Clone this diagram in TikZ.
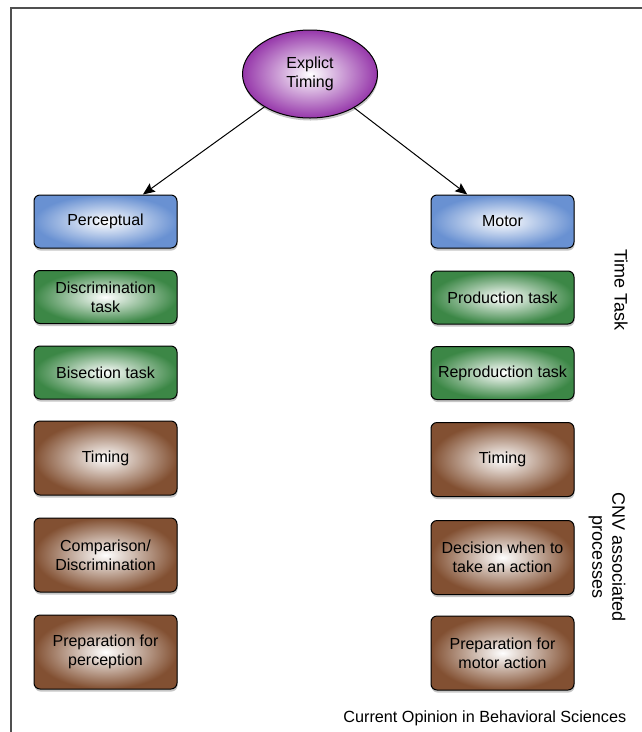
\documentclass[tikz,border=0pt]{standalone}
\usepackage{fontspec}
\setmainfont{Liberation Sans}
\usetikzlibrary{positioning,shapes.geometric,shadows,arrows.meta}

\definecolor{percblue}{RGB}{105,145,210}
\definecolor{taskgreen}{RGB}{60,135,70}
\definecolor{cnvbrown}{RGB}{130,80,50}
\definecolor{rootpurple}{RGB}{150,55,170}
\definecolor{framegray}{RGB}{80,80,80}

\begin{document}
\begin{tikzpicture}[
    x=1pt, y=1pt, line width=1pt, text centered,
    box/.style={draw, rounded corners=6pt, minimum width=143pt, minimum height=53pt,
      align=center, inner color=white, font=\fontsize{16}{19}\selectfont,
      drop shadow={shadow xshift=0.5pt, shadow yshift=-2.5pt, opacity=0.45}},
    kind/.style={box, outer color=percblue},
    task/.style={box, outer color=taskgreen},
    cnv/.style={box, outer color=cnvbrown, minimum height=74pt},
    side/.style={rotate=-90, align=center, font=\fontsize{18}{20}\selectfont},
    link/.style={-{Stealth[length=12pt, width=10pt, inset=2pt]}},
  ]
  \useasboundingbox (0,0) rectangle (642,-732);

  % frame
  \draw[framegray, line width=1.6pt] (11,-732) -- (11,-8) -- (642,-8);

  % root
  \node[ellipse, draw, inner sep=0pt, minimum width=135pt, minimum height=88pt,
    inner color=white, outer color=rootpurple, align=center,
    font=\fontsize{16}{19}\selectfont,
    drop shadow={shadow xshift=0.5pt, shadow yshift=-2.5pt, opacity=0.45}]
    (expl) at (310,-74) {Explict\\Timing};

  % perceptual side
  \node[kind] (perc) at (105.5,-221.5) {Perceptual};
  \node[task, below=21.5pt of perc] (disc) {Discrimination\\task};
  \node[task, below=21.5pt of disc] (bisec) {Bisection task};
  \node[cnv, below=21pt of bisec] (timl) {Timing};
  \node[cnv, below=22pt of timl] (comp) {Comparison/\\Discrimination};
  \node[cnv, below=22pt of comp] (prepp) {Preparation for\\perception};

  % motor side
  \node[kind] (motor) at (502.5,-221.5) {Motor};
  \node[task, below=22pt of motor] (prod) {Production task};
  \node[task, below=21.5pt of prod] (repr) {Reproduction task};
  \node[cnv, below=22pt of repr] (timr) {Timing};
  \node[cnv, below=23pt of timr] (deci) {Decision when to\\take an action};
  \node[cnv, below=20.5pt of deci] (prepm) {Preparation for\\motor action};

  % arrows
  \draw[link] (expl) -- (perc);
  \draw[link] (expl) -- (motor);

  % side labels
  \node[side] (timetask) at (621,-290) {Time Task};
  \node[side] (cnvproc) at (607,-557) {CNV associated\\processes};
  \node[anchor=east, font=\fontsize{16.2}{19}\selectfont] (journal) at (630,-718)
    {Current Opinion in Behavioral Sciences};

\end{tikzpicture}
\end{document}
